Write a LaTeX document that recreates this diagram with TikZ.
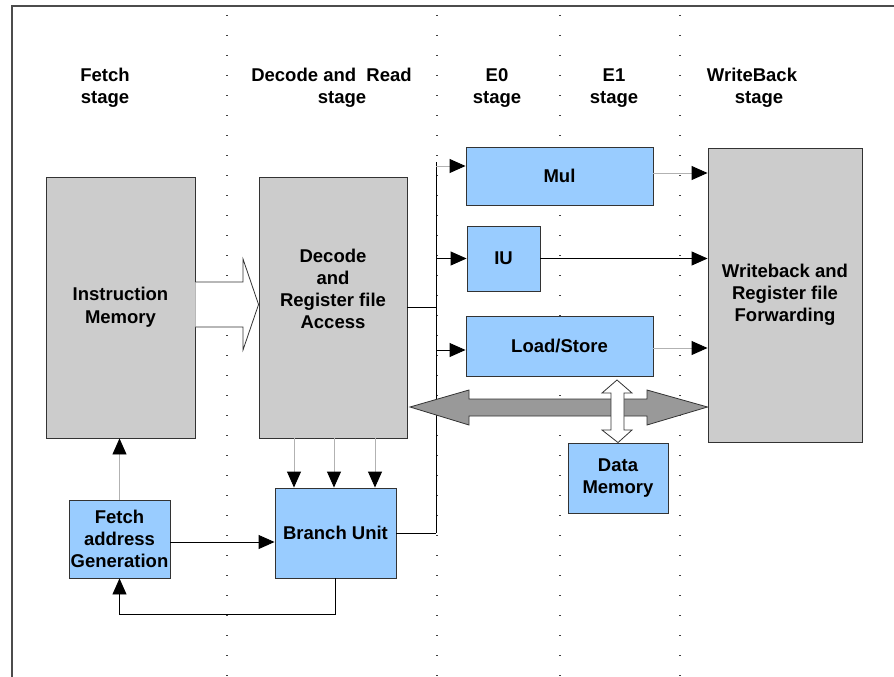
\documentclass[tikz,border=0pt]{standalone}
\usepackage{fontspec}
\setmainfont{Liberation Sans}
\usetikzlibrary{arrows.meta,calc}

\definecolor{unitgray}{HTML}{CCCCCC}
\definecolor{unitblue}{HTML}{99CCFF}
\definecolor{busgray}{HTML}{999999}
\definecolor{edgegray}{HTML}{333333}

\begin{document}
\begin{tikzpicture}[x=1pt,y=-1pt,
  every node/.style={font=\fontsize{18.5}{22}\selectfont\bfseries, align=center, inner sep=0pt},
  graybox/.style={draw=edgegray, line width=0.9pt, fill=unitgray},
  bluebox/.style={draw=edgegray, line width=0.9pt, fill=unitblue},
  tip/.style={-{Triangle[length=16pt,width=14pt,color=black]}},
  solidarrow/.style={tip, draw=black, line width=0.9pt},
  faintarrow/.style={tip, draw=black!30, line width=0.9pt},
  wire/.style={draw=black, line width=0.9pt},
  stagesep/.style={draw=black!75, line width=1.2pt, dash pattern=on 1pt off 19pt},
  hollow/.style={draw=edgegray, line width=0.8pt, fill=white, line join=miter},
  fatbus/.style={draw=edgegray, line width=0.8pt, fill=busgray, line join=miter}
]
\useasboundingbox (0,0) rectangle (894,677);

% outer frame (top and left edges only)
\draw[black!70, line width=1.3pt] (12,677) -- (12,6) -- (894,6);

% stage separators
\foreach \sx in {227,437,560,680}
  \draw[stagesep] (\sx,15) -- (\sx,677);

% stage titles
\node (tF)  at (105,88)   {Fetch\\stage};
\node (tD)  at (331.5,88) {Decode and\ \ Read\\\hspace*{21pt}stage};
\node (tE0) at (497,88)   {E0\\stage};
\node (tE1) at (614,88)   {E1\\stage};
\node (tWB) at (752,88)   {WriteBack\\\hspace*{14pt}stage};

% pipeline units
\node[graybox, minimum width=149pt, minimum height=261pt] (imem) at (120.5,307.5) {Instruction\\[1pt]Memory};
\node[graybox, minimum width=148pt, minimum height=261pt] (dec)  at (333,307.5) {};
\node (decT) at (333,289) {Decode\\and\\Register file\\Access};
\node[bluebox, minimum width=187pt, minimum height=58pt]  (mul)  at (559.5,176)   {Mul};
\node[bluebox, minimum width=73pt,  minimum height=65pt]  (iu)   at (503.5,258.5) {IU};
\node[bluebox, minimum width=187pt, minimum height=60pt]  (ls)   at (559.5,346)   {Load/Store};
\node[graybox, minimum width=154pt, minimum height=294pt] (wb)   at (785,295)     {Writeback and\\Register file\\Forwarding};
\node[bluebox, minimum width=100pt, minimum height=70pt]  (dm)   at (618,478)     {Data\\Memory};
\node[bluebox, minimum width=121pt, minimum height=90pt]  (bu)   at (335.5,533)   {Branch Unit};
\node[bluebox, minimum width=101pt, minimum height=78pt]  (fag)  at (119.5,539)   {Fetch\\address\\Generation};

% instruction path: wide hollow arrow from memory into decode
\draw[hollow] (imem.east |- 0,282) -- (243,282) -- (243,259) -- (dec.west |- 0,304.5)
  -- (243,350) -- (243,327) -- (imem.east |- 0,327);

% operand bus feeding the execution units
\coordinate (busTop) at (436,162);
\coordinate (tapMul) at (436,166);
\coordinate (tapLS)  at (436,350);
\draw[wire] (busTop) -- (bu.east -| busTop);
\draw[wire] (dec.east) -- (dec.east -| busTop);
\draw[wire] (bu.east) -- (bu.east -| busTop);
\draw[faintarrow] (tapMul) -- (mul.west |- tapMul);
\draw[solidarrow] (iu.west -| busTop) -- (iu.west);
\draw[solidarrow] (tapLS) -- (ls.west |- tapLS);

% results to writeback
\draw[faintarrow] ([yshift=3pt]mul.east) -- ([yshift=3pt]mul.east -| wb.west);
\draw[solidarrow] (iu.east) -- (iu.east -| wb.west);
\draw[faintarrow] ([yshift=-2pt]ls.east) -- ([yshift=-2pt]ls.east -| wb.west);

% forwarding bus between decode and writeback
\draw[fatbus] (410,407) -- (469,390) -- (469,399) -- (647,399) -- (647,390) -- (wb.west |- 0,407)
  -- (647,425) -- (647,416) -- (469,416) -- (469,425) -- cycle;

% load/store <-> data memory
\draw[hollow] (617,380) -- (632,393) -- (624,393) -- (624,430) -- (632,430) -- (dm.north)
  -- (602,430) -- (611,430) -- (611,393) -- (602,393) -- cycle;

% decode to branch unit
\foreach \dx in {-39,1,42}
  \draw[faintarrow] ([xshift=\dx pt]dec.south) -- ([xshift=\dx pt]dec.south |- bu.north);

% fetch address generation
\draw[faintarrow] (fag.north) -- (fag.north |- imem.south);
\draw[solidarrow] ([yshift=-3pt]fag.east) -- ([yshift=-3pt]fag.east -| bu.west);
\draw[solidarrow] (bu.south) -- ++(0,36) -| (fag.south);
\end{tikzpicture}
\end{document}
